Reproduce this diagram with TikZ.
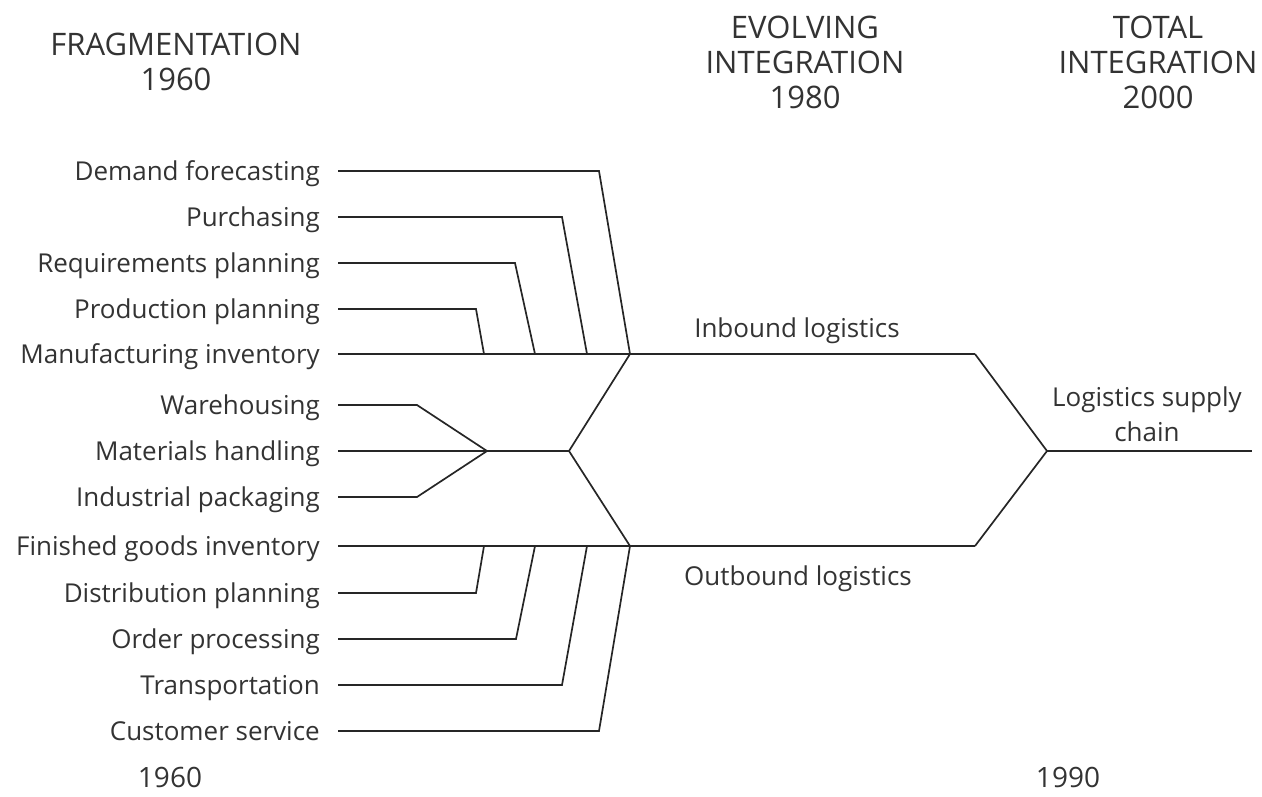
\documentclass[tikz,border=0pt]{standalone}
\usepackage{fontspec}
\setmainfont{Open Sans}
\begin{document}
\begin{tikzpicture}[x=1pt,y=-1pt,
  conn/.style={line width=1.7pt, line join=miter, draw=black!85},
  txt/.style={inner sep=0pt, text=black!80, font=\fontsize{26}{35}\selectfont},
  lab/.style={txt, anchor=base east},
  ctr/.style={txt, anchor=base},
  big/.style={txt, anchor=base, align=center, font=\fontsize{31}{35}\selectfont},
  yr/.style={txt, anchor=base, font=\fontsize{28}{35}\selectfont}]
\useasboundingbox (0,0) rectangle (1262,796);

% headers (base = last line)
\node[big] (h1) at (176,90) {FRAGMENTATION\\1960};
\node[big] (h2) at (805,108) {EVOLVING\\INTEGRATION\\1980};
\node[big] (h3) at (1158,108) {TOTAL\\INTEGRATION\\2000};
\node[yr] (y1) at (170,787) {1960};
\node[yr] (y2) at (1068,787) {1990};

% left labels
\node[lab] (l1) at (320,180) {Demand forecasting};
\node[lab] (l2) at (320,226) {Purchasing};
\node[lab] (l3) at (320,272) {Requirements planning};
\node[lab] (l4) at (320,318) {Production planning};
\node[lab] (l5) at (320,363) {Manufacturing inventory};
\node[lab] (l6) at (320,414) {Warehousing};
\node[lab] (l7) at (320,460) {Materials handling};
\node[lab] (l8) at (320,506) {Industrial packaging};
\node[lab] (l9) at (320,555) {Finished goods inventory};
\node[lab] (l10) at (320,602) {Distribution planning};
\node[lab] (l11) at (320,648) {Order processing};
\node[lab] (l12) at (320,694) {Transportation};
\node[lab] (l13) at (320,740) {Customer service};

\node[ctr] (ib) at (797,337) {Inbound logistics};
\node[ctr] (ob) at (798,585) {Outbound logistics};
\node[txt, anchor=base, align=center] (lsc) at (1147,441) {Logistics supply\\chain};

% line start points
\foreach \i/\y in {1/171,2/217,3/263,4/309,5/354,6/405,7/451,8/497,9/546,10/593,11/639,12/685,13/731}
  \coordinate (s\i) at (338,\y);

% junctions
\coordinate (jin) at (630,354);
\coordinate (jout) at (630,546);
\coordinate (jm) at (569,451);
\coordinate (jw) at (487,451);
\coordinate (ein) at (975,354);
\coordinate (eout) at (975,546);
\coordinate (jt) at (1047,451);
\coordinate (end) at (1252,451);

% inbound feeders
\draw[conn] (s1) -- (599,171) -- (jin);
\draw[conn] (s2) -- (562,217) -- (587,354);
\draw[conn] (s3) -- (515,263) -- (535,354);
\draw[conn] (s4) -- (476,309) -- (484,354);
\draw[conn] (s5) -- (jin) -- (ein);

% middle
\draw[conn] (s6) -- (417,405) -- (jw);
\draw[conn] (s8) -- (417,497) -- (jw);
\draw[conn] (s7) -- (jw) -- (jm);
\draw[conn] (jin) -- (jm) -- (jout);

% outbound feeders
\draw[conn] (s9) -- (jout) -- (eout);
\draw[conn] (s10) -- (476,593) -- (484,546);
\draw[conn] (s11) -- (516,639) -- (535,546);
\draw[conn] (s12) -- (562,685) -- (587,546);
\draw[conn] (s13) -- (599,731) -- (jout);

% total integration
\draw[conn] (ein) -- (jt) -- (eout);
\draw[conn] (jt) -- (end);
\end{tikzpicture}
\end{document}
